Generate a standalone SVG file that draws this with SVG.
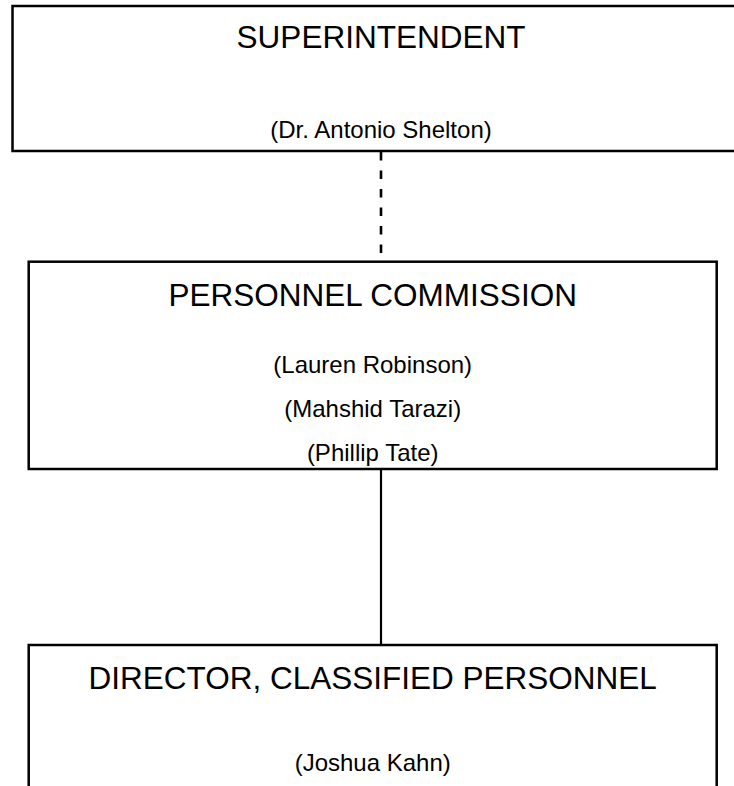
<svg xmlns="http://www.w3.org/2000/svg" width="734" height="786" viewBox="0 0 734 786">
<style>
.box{fill:#fff;stroke:#000;stroke-width:2.5}
.title{font-family:"Liberation Sans",Arial,sans-serif;font-size:31.5px;fill:#000;text-anchor:middle}
.name{font-family:"Liberation Sans",Arial,sans-serif;font-size:24px;fill:#000;text-anchor:middle}
.conn{stroke:#000;stroke-width:2.2;fill:none}
.dash{stroke-width:2.6;stroke-dasharray:8.5 10}
</style>
<rect width="734" height="786" fill="#fff"/>
<g id="connectors">
<line class="conn dash" x1="381" y1="152" x2="381" y2="261"/>
<line class="conn" x1="381" y1="469" x2="381" y2="645"/>
</g>
<g id="superintendent">
<rect class="box" x="12.5" y="6" width="750" height="145"/>
<text class="title" x="381" y="47.5">SUPERINTENDENT</text>
<text class="name" x="381" y="137.5">(Dr. Antonio Shelton)</text>
</g>
<g id="personnel-commission">
<rect class="box" x="28.7" y="261.7" width="688" height="207.3"/>
<text class="title" x="372.7" y="306">PERSONNEL COMMISSION</text>
<text class="name" x="372.7" y="373">(Lauren Robinson)</text>
<text class="name" x="372.7" y="417">(Mahshid Tarazi)</text>
<text class="name" x="372.7" y="461">(Phillip Tate)</text>
</g>
<g id="director">
<rect class="box" x="28.7" y="645" width="688" height="160"/>
<text class="title" x="372.7" y="689">DIRECTOR, CLASSIFIED PERSONNEL</text>
<text class="name" x="372.7" y="771">(Joshua Kahn)</text>
</g>
</svg>
